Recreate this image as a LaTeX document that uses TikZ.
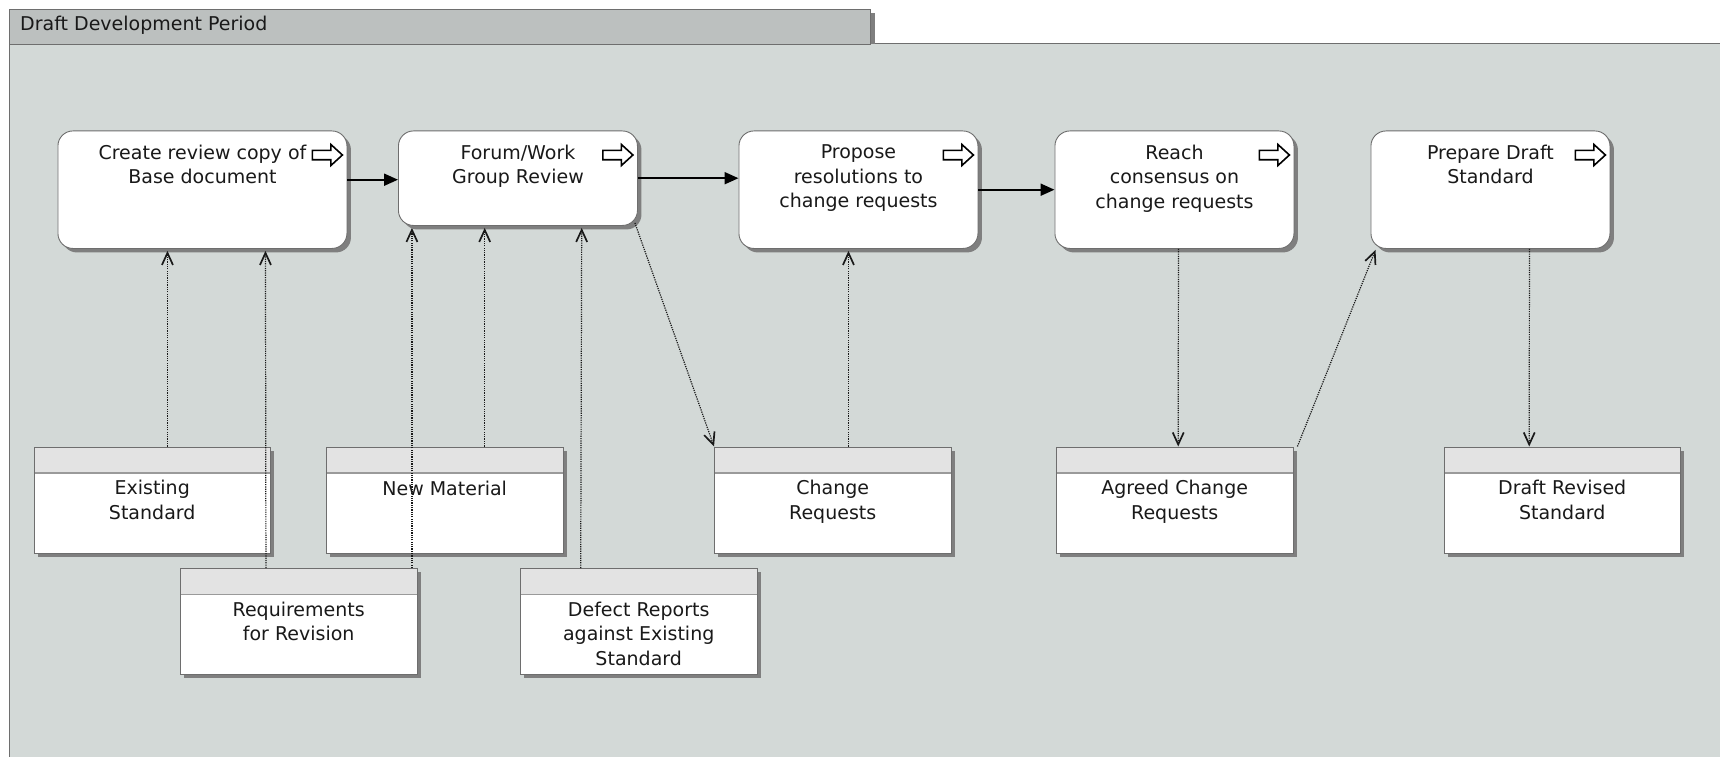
\documentclass[tikz,border=0pt]{standalone}
\usepackage{fontspec}
\setmainfont{DejaVu Sans}
\usetikzlibrary{arrows.meta,shadows,calc}
\definecolor{bodyc}{HTML}{D3D9D7}
\definecolor{tabc}{HTML}{BCC0BF}
\definecolor{hdrc}{HTML}{E3E3E3}
\definecolor{shadc}{HTML}{7F7F7F}
\definecolor{bordc}{HTML}{6E6E6E}
\definecolor{linec}{HTML}{9A9A9A}
\begin{document}
\begin{tikzpicture}[x=1pt,y=-1pt,
  txt/.style={font=\fontsize{19}{24.5}\selectfont, align=center, inner sep=0pt, anchor=north, text=black!90,
    execute at begin node={\rule{0pt}{15pt}}},
  boxshadow/.style={drop shadow={shadow xshift=4pt,shadow yshift=-4pt,fill=shadc,opacity=1}},
  proc/.style={draw=bordc, line width=0.9pt, fill=white, rounded corners=15pt, anchor=north west, inner sep=0pt, minimum width=239pt, minimum height=117.5pt, boxshadow},
  datab/.style={draw=bordc, line width=0.9pt, fill=white, anchor=north west, inner sep=0pt, minimum width=236.5pt, minimum height=106pt, boxshadow,
    path picture={
      \fill[hdrc] (path picture bounding box.north west) rectangle ([yshift=-26pt]path picture bounding box.north east);
      \draw[linec, line width=1.5pt] ([yshift=-26pt]path picture bounding box.north west) -- ([yshift=-26pt]path picture bounding box.north east);
    }},
  flow/.style={line width=2pt, -{Triangle[length=14pt,width=12pt]}},
  dep/.style={line width=1.2pt, draw=black!90, dash pattern=on 1.2pt off 1.1pt, -{Straight Barb[length=12pt,width=11pt,line width=1.7pt]}},
  icon/.style={draw=black, line width=1.6pt, fill=white, line join=miter}
]
\useasboundingbox (0,0) rectangle (1720,757);
% frame
\fill[bodyc] (9,44) rectangle (1720,757);
\draw[bordc, line width=1pt] (9,757) -- (9,44) -- (1720,44);
\fill[shadc] (870,13) rectangle (875,44);
\node[draw=bordc, line width=1pt, fill=tabc, anchor=north west, minimum width=861pt, minimum height=35pt, inner sep=0pt] (tab) at (9,9) {};
\node[txt, anchor=base west, execute at begin node={}] (tabt) at (20,31) {Draft Development Period};

% process boxes
\node[proc, minimum width=289pt] (p1) at (57.5,130.5) {};
\node[proc, minimum height=94.5pt] (p2) at (398,130.5) {};
\node[proc] (p3) at (738.5,130.5) {};
\node[proc] (p4) at (1054.5,130.5) {};
\node[proc] (p5) at (1370.5,130.5) {};

\foreach \p in {p1,p2,p3,p4,p5}{
  \draw[icon, shift={([xshift=-35pt,yshift=-24.5pt]\p.north east)}]
    (0,-4.7) -- (18.5,-4.7) -- (18.5,-10.5) -- (30,0) -- (18.5,10.5) -- (18.5,4.7) -- (0,4.7) -- cycle;
}

\node[txt] (p1t) at ([yshift=-14pt]p1.north) {Create review copy of\\Base document};
\node[txt] (p2t) at ([yshift=-14pt]p2.north) {Forum/Work\\Group Review};
\node[txt] (p3t) at ([yshift=-14pt]p3.north) {Propose\\resolutions to\\change requests};
\node[txt] (p4t) at ([yshift=-14pt]p4.north) {Reach\\consensus on\\change requests};
\node[txt] (p5t) at ([yshift=-14pt]p5.north) {Prepare Draft\\Standard};

% data boxes
\node[datab] (es) at (33.5,446.5) {};
\node[datab] (nm) at (326,446.5) {};
\node[datab] (cr) at (714,446.5) {};
\node[datab] (ac) at (1056,446.5) {};
\node[datab] (dr) at (1443.5,446.5) {};
\node[datab] (rr) at (180,568) {};
\node[datab] (dd) at (520,568) {};

\node[txt] (est) at ([yshift=-33.5pt]es.north) {Existing\\Standard};
\node[txt] (nmt) at ([yshift=-33.5pt]nm.north) {New Material};
\node[txt] (crt) at ([yshift=-33.5pt]cr.north) {Change\\Requests};
\node[txt] (act) at ([yshift=-33.5pt]ac.north) {Agreed Change\\Requests};
\node[txt] (drt) at ([yshift=-33.5pt]dr.north) {Draft Revised\\Standard};
\node[txt] (rrt) at ([yshift=-33.5pt]rr.north) {Requirements\\for Revision};
\node[txt] (ddt) at ([yshift=-33.5pt]dd.north) {Defect Reports\\against Existing\\Standard};

% flow arrows
\draw[flow] ([yshift=10pt]p1.east) -- ([yshift=10pt]p1.east -| p2.west);
\draw[flow] (p2.east) -- (p2.east -| p3.west);
\draw[flow] (p3.east) -- (p4.west);

% dependency arrows
\draw[dep] ([xshift=15.25pt]es.north) -- ([xshift=-35pt,yshift=-2pt]p1.south);
\draw[dep] ([xshift=-32.75pt]rr.north) -- ([xshift=63pt,yshift=-2pt]p1.south);
\draw[dep] ([xshift=113.25pt]rr.north) -- ([xshift=-106pt,yshift=-2pt]p2.south);
\draw[dep] ([xshift=40pt]nm.north) -- ([xshift=-33.25pt,yshift=-2pt]p2.south);
\draw[dep] ([xshift=-58pt]dd.north) -- ([xshift=63.75pt,yshift=-2pt]p2.south);
\draw[dep] ([xshift=-3pt,yshift=3pt]p2.south east) -- (cr.north west);
\draw[dep] ([xshift=15.75pt]cr.north) -- ([xshift=-10pt,yshift=-2pt]p3.south);
\draw[dep] ([xshift=4pt]p4.south) -- ([xshift=3.5pt]ac.north);
\draw[dep] ([xshift=4pt]ac.north east) -- ([xshift=5pt,yshift=-1pt]p5.south west);
\draw[dep] ([xshift=39pt]p5.south) -- ([xshift=-33pt]dr.north);
\end{tikzpicture}
\end{document}
